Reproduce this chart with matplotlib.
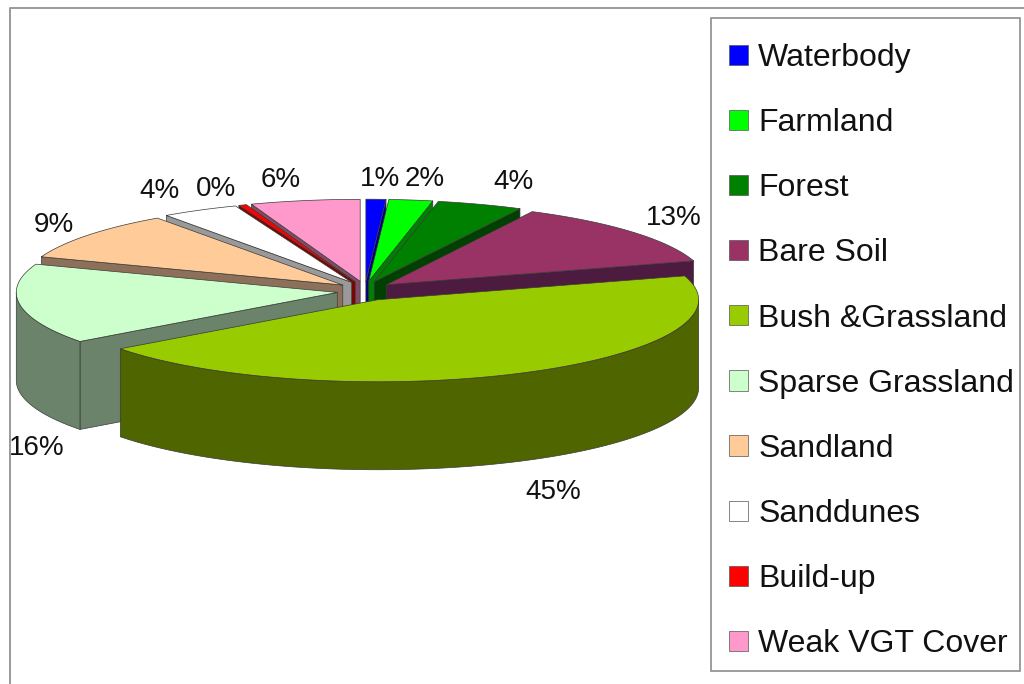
import numpy as np
import matplotlib
matplotlib.use("Agg")
import matplotlib.pyplot as plt
from matplotlib.patches import Patch, Rectangle

plt.rcParams['font.family'] = ['Liberation Sans', 'DejaVu Sans']

categories = ["Waterbody", "Farmland", "Forest", "Bare Soil", "Bush &Grassland",
              "Sparse Grassland", "Sandland", "Sanddunes", "Build-up", "Weak VGT Cover"]
shares = [1.0, 2.2, 4.3, 12.8, 44.5, 15.8, 9.6, 3.9, 0.4, 5.5]
pct_labels = ["1%", "2%", "4%", "13%", "45%", "16%", "9%", "4%", "0%", "6%"]
top_colors = ["#0000FF", "#00FF00", "#008000", "#993366", "#99CC00",
              "#CCFFCC", "#FFCC99", "#FFFFFF", "#FF0000", "#FF99CC"]
side_colors = ["#000080", "#008000", "#004000", "#4D1A40", "#4F6500",
               "#6A836A", "#8C7059", "#999999", "#800000", "#804D66"]
label_xy = [(380, 179), (425, 179), (513, 182), (674, 218), (553, 492),
            (37, 448), (54, 225), (160, 191), (216, 189), (281, 180)]

W, H = 1024, 684
CX, CY, RX, RY = 365, 291, 321, 82
EXPLODE, EXPLODE_Y, DEPTH = 28, 0.35, 88
fig = plt.figure(figsize=(W / 100, H / 100), dpi=100, facecolor="white")
ax = fig.add_axes([0, 0, 1, 1])
ax.set_xlim(0, W)
ax.set_ylim(H, 0)
ax.axis("off")

# outer chart frame
ax.plot([10, 10, W], [H, 8, 8], color="#9a9a9a", lw=1.4, zorder=1)

fractions = np.array(shares) / np.sum(shares) * 2 * np.pi
ends = np.cumsum(fractions)
starts = ends - fractions
mids = (starts + ends) / 2
edge = dict(edgecolor="#3a3a3a", linewidth=0.5, joinstyle="round")


def rim(ax0, ay0, t):
    return ax0 + RX * np.sin(t), ay0 - RY * np.cos(t)


for rank, i in enumerate(np.argsort(-np.cos(mids))):
    a0 = CX + EXPLODE * np.sin(mids[i])
    b0 = CY - EXPLODE * EXPLODE_Y * np.cos(mids[i])
    t = np.linspace(starts[i], ends[i], 160)
    x, y = rim(a0, b0, t)
    z = 10 + rank
    # radial faces, only those turned towards the viewer
    for tt, facing in ((starts[i], np.sin(starts[i]) < -1e-6), (ends[i], np.sin(ends[i]) > 1e-6)):
        if facing:
            rx_, ry_ = rim(a0, b0, tt)
            ax.fill([a0, rx_, rx_, a0], [b0, ry_, ry_ + DEPTH, b0 + DEPTH],
                    facecolor=side_colors[i], zorder=z, **edge)
    # outer wall, only the part facing the viewer
    lo, hi = max(starts[i], np.pi / 2), min(ends[i], 3 * np.pi / 2)
    if hi > lo:
        tw = np.linspace(lo, hi, 120)
        wx, wy = rim(a0, b0, tw)
        ax.fill(np.r_[wx, wx[::-1]], np.r_[wy, wy[::-1] + DEPTH],
                facecolor=side_colors[i], zorder=z, **edge)
    # top surface
    ax.fill(np.r_[a0, x], np.r_[b0, y], facecolor=top_colors[i], zorder=z, **edge)

for text, (lx, ly) in zip(pct_labels, label_xy):
    ax.text(lx, ly, text, ha="center", va="center", fontsize=20, color="#111111", zorder=40)

# legend
ax.add_patch(Rectangle((711, 18), 309, 653, facecolor="white", edgecolor="#8c8c8c", lw=1.2, zorder=30))
handles = [Patch(facecolor=c, edgecolor="#555555", linewidth=0.5) for c in top_colors]
leg = ax.legend(handles, categories, loc="upper left", bbox_to_anchor=(729 / W, 1 - 43 / H),
                bbox_transform=fig.transFigure, frameon=False, fontsize=23.0, borderpad=0, borderaxespad=0,
                handlelength=0.58, handleheight=0.6, handletextpad=0.33, labelspacing=1.1, labelcolor="#111111")
leg.set_zorder(35)

fig.savefig("out.png", dpi=100, facecolor="white")
